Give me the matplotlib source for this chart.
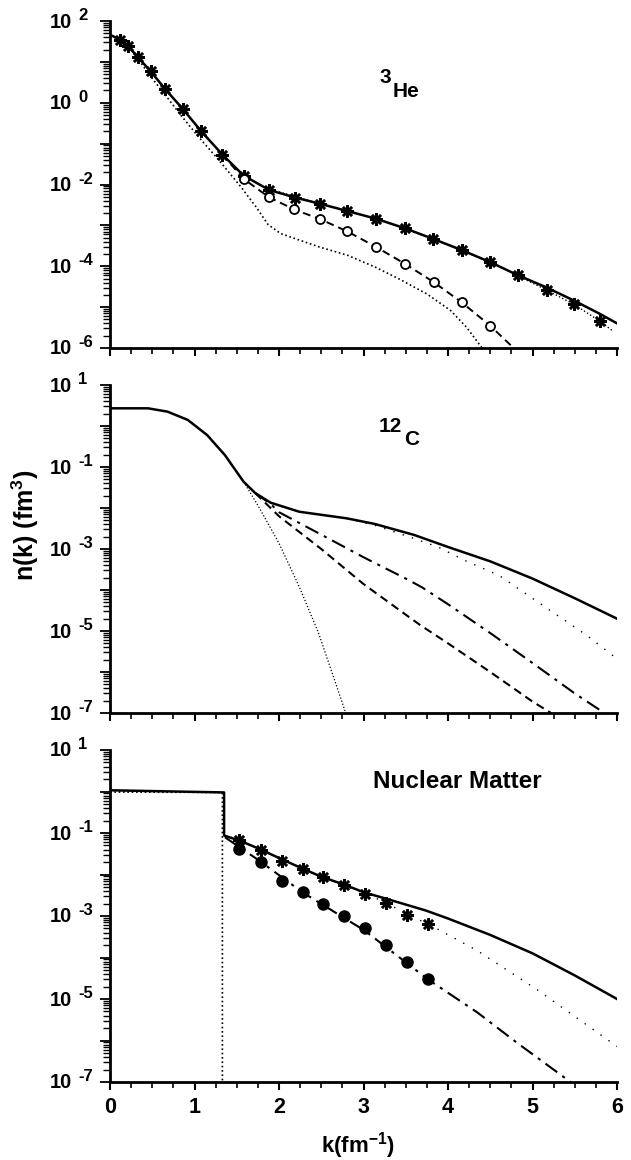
import numpy as np
import matplotlib
matplotlib.use('Agg')
import matplotlib.pyplot as plt
from matplotlib.ticker import LogLocator, MultipleLocator, NullFormatter

# ---------------- data ----------------
# 3He panel
he3_full_k = [0.0, 0.12, 0.21, 0.33, 0.48, 0.65, 0.86, 1.08, 1.33, 1.58, 1.88, 2.19, 2.48,
              2.81, 3.15, 3.49, 3.82, 4.16, 4.50, 4.83, 5.17, 5.49, 5.80, 6.0]
he3_full_n = [4.6e1, 3.5e1, 2.5e1, 1.3e1, 5.9e0, 2.2e0, 7.1e-1, 2.0e-1, 5.4e-2, 1.66e-2,
              7.4e-3, 4.8e-3, 3.4e-3, 2.24e-3, 1.45e-3, 8.5e-4, 4.7e-4, 2.5e-4, 1.26e-4,
              6.0e-5, 3.0e-5, 1.45e-5, 6.8e-6, 4.0e-6]
he3_star_k = [0.12, 0.21, 0.33, 0.48, 0.65, 0.86, 1.08, 1.33, 1.58, 1.88, 2.19, 2.48, 2.81,
              3.15, 3.49, 3.82, 4.16, 4.50, 4.83, 5.17, 5.49, 5.80]
he3_star_n = [3.5e1, 2.5e1, 1.3e1, 5.9e0, 2.2e0, 7.1e-1, 2.0e-1, 5.4e-2, 1.66e-2, 7.4e-3,
              4.8e-3, 3.4e-3, 2.24e-3, 1.45e-3, 8.5e-4, 4.7e-4, 2.5e-4, 1.26e-4, 6.0e-5,
              2.6e-5, 1.17e-5, 4.5e-6]
he3_dot2_k = [2.0, 2.48, 3.15, 3.82, 4.50, 4.83, 5.17, 5.49, 5.80, 5.95]
he3_dot2_n = [6.6e-3, 3.4e-3, 1.45e-3, 4.7e-4, 1.26e-4, 5.8e-5, 2.6e-5, 1.17e-5, 4.5e-6, 2.6e-6]
he3_circ_k = [1.58, 1.88, 2.18, 2.49, 2.81, 3.15, 3.49, 3.83, 4.16, 4.50]
he3_circ_n = [1.38e-2, 4.9e-3, 2.45e-3, 1.41e-3, 7.1e-4, 2.95e-4, 1.15e-4, 4.1e-5, 1.32e-5, 3.5e-6]
he3_dash_k = [1.33, 1.58, 1.88, 2.18, 2.49, 2.81, 3.15, 3.49, 3.83, 4.16, 4.50, 4.80]
he3_dash_n = [5.4e-2, 1.38e-2, 4.9e-3, 2.45e-3, 1.41e-3, 7.1e-4, 2.95e-4, 1.15e-4, 4.1e-5,
              1.32e-5, 3.5e-6, 9.0e-7]
he3_dot_k = [0.0, 0.21, 0.33, 0.47, 0.66, 0.84, 1.05, 1.29, 1.55, 1.73, 1.87, 2.02, 2.25,
             2.48, 2.81, 3.14, 3.42, 3.75, 4.03, 4.22, 4.42]
he3_dot_n = [4.6e1, 2.5e1, 1.2e1, 4.7e0, 1.5e0, 4.9e-1, 1.45e-1, 3.9e-2, 8.7e-3, 2.8e-3,
             1.05e-3, 6.3e-4, 4.3e-4, 2.95e-4, 1.86e-4, 9.5e-5, 4.9e-5, 2.1e-5, 8.3e-6,
             3.2e-6, 9.0e-7]

# 12C panel
c12_full_k = [0.0, 0.45, 0.68, 0.92, 1.15, 1.36, 1.58, 1.72, 1.90, 2.24, 2.80, 3.13, 3.60,
              4.0, 4.5, 5.0, 5.5, 6.0]
c12_full_n = [2.7e0, 2.7e0, 2.24e0, 1.41e0, 6.0e-1, 1.95e-1, 4.4e-2, 2.3e-2, 1.35e-2,
              8.1e-3, 5.6e-3, 4.1e-3, 2.2e-3, 1.12e-3, 5.0e-4, 1.9e-4, 6.3e-5, 2.0e-5]
c12_dot_k = [2.80, 3.13, 3.60, 3.88, 4.24, 4.60, 5.17, 5.64, 6.0]
c12_dot_n = [5.6e-3, 3.8e-3, 1.8e-3, 1.12e-3, 4.8e-4, 2.3e-4, 3.6e-5, 7.9e-6, 2.1e-6]
c12_dd_k = [1.72, 1.90, 2.0, 2.5, 3.0, 3.5, 3.69, 4.0, 4.5, 5.0, 5.5, 5.85]
c12_dd_n = [2.3e-2, 1.26e-2, 7.9e-3, 2.24e-3, 6.3e-4, 1.9e-4, 1.17e-4, 4.5e-5, 8.9e-6,
            1.66e-6, 3.0e-7, 1.0e-7]
c12_dash_k = [1.72, 1.90, 2.0, 2.5, 3.0, 3.5, 3.67, 4.0, 4.5, 5.0, 5.22]
c12_dash_n = [2.3e-2, 1.0e-2, 6.3e-3, 1.0e-3, 1.4e-4, 2.5e-5, 1.4e-5, 5.0e-6, 1.0e-6,
              1.9e-7, 1.0e-7]
c12_mf_k = [1.36, 1.58, 1.76, 2.0, 2.24, 2.47, 2.79]
c12_mf_n = [1.95e-1, 4.4e-2, 1.07e-2, 1.38e-3, 1.2e-4, 8.7e-6, 1.0e-7]

# Nuclear matter panel
nm_full_k = [0.0, 1.35, 1.35, 1.53, 1.76, 2.0, 2.28, 2.51, 2.75, 3.01, 3.27, 3.74, 4.0,
             4.5, 5.0, 5.5, 6.0]
nm_full_n = [1.07e0, 9.5e-1, 8.7e-2, 6.6e-2, 4.2e-2, 2.5e-2, 1.38e-2, 8.7e-3, 5.9e-3,
             3.7e-3, 2.6e-3, 1.35e-3, 8.7e-4, 3.5e-4, 1.26e-4, 3.7e-5, 1.0e-5]
nm_free_k = [0.0, 1.33, 1.33]
nm_free_n = [9.7e-1, 9.5e-1, 1.0e-7]
nm_dot_k = [1.35, 1.53, 2.0, 2.51, 3.01, 3.27, 3.50, 3.76, 4.35, 5.05, 6.0]
nm_dot_n = [8.7e-2, 6.6e-2, 2.5e-2, 8.7e-3, 3.5e-3, 2.1e-3, 1.12e-3, 6.5e-4, 1.45e-4,
            1.7e-5, 7.2e-7]
nm_mark_k = [1.53, 1.79, 2.03, 2.28, 2.52, 2.77, 3.02, 3.27, 3.51, 3.76]
nm_star_n = [6.9e-2, 4.0e-2, 2.1e-2, 1.38e-2, 8.7e-3, 5.6e-3, 3.4e-3, 2.1e-3, 1.07e-3, 6.5e-4]
nm_circ_n = [4.2e-2, 2.0e-2, 7.1e-3, 3.7e-3, 1.95e-3, 1.02e-3, 5.1e-4, 2.0e-4, 7.6e-5, 3.0e-5]
nm_dd_k = [1.36, 1.76, 2.28, 3.01, 3.76, 4.35, 4.82, 5.45]
nm_dd_n = [7.9e-2, 2.2e-2, 3.7e-3, 4.5e-4, 3.0e-5, 4.7e-6, 8.7e-7, 1.0e-7]

x_ticks = [0, 1, 2, 3, 4, 5, 6]
top_exponents = [2, 0, -2, -4, -6]
low_exponents = [1, -1, -3, -5, -7]
panel_titles = ["3He", "12C", "Nuclear Matter"]

# ---------------- style ----------------
plt.rcParams['font.family'] = ['Liberation Sans', 'DejaVu Sans']
plt.rcParams['font.weight'] = 'bold'
plt.rcParams['mathtext.fontset'] = 'custom'
plt.rcParams['mathtext.rm'] = 'Liberation Sans:bold'
plt.rcParams['mathtext.bf'] = 'Liberation Sans:bold'
plt.rcParams['mathtext.it'] = 'Liberation Sans:bold'
plt.rcParams['mathtext.default'] = 'rm'

W, H = 631, 1160
PX = 0.72  # points per pixel at dpi 100
fig = plt.figure(figsize=(W / 100, H / 100), dpi=100)


def add_ax(top, bottom):
    return fig.add_axes([110 / W, 1 - bottom / H, 507 / W, (bottom - top) / H])


ax1 = add_ax(21, 348)
ax2 = add_ax(385, 713)
ax3 = add_ax(750, 1082)

DOT_DENSE = (0, (1.0, 1.6))
DOT_SPARSE = (0, (1.0, 6.0))
DASH = (0, (4.0, 2.5))
DASHDOT = (0, (7.0, 3.0, 1.5, 3.0))
STAR = (8, 2, 0)


def style(ax, ymin, ymax, exps, show_x):
    ax.set_xlim(0, 6)
    ax.set_yscale('log')
    ax.set_ylim(ymin, ymax)
    for s in ['top', 'right']:
        ax.spines[s].set_visible(False)
    for s in ['left', 'bottom']:
        ax.spines[s].set_linewidth(2.0)
    ax.xaxis.set_major_locator(MultipleLocator(1))
    ax.xaxis.set_minor_locator(MultipleLocator(0.25))
    ax.yaxis.set_major_locator(LogLocator(base=10, numticks=30))
    ax.yaxis.set_minor_locator(LogLocator(base=10, subs=np.arange(2, 10), numticks=30))
    ax.yaxis.set_minor_formatter(NullFormatter())
    ax.yaxis.set_major_formatter(NullFormatter())
    ax.tick_params(axis='y', which='major', direction='out', length=7, width=1.3)
    ax.tick_params(axis='y', which='minor', direction='out', length=5, width=1.0)
    ax.tick_params(axis='x', which='major', direction='out', length=6, width=1.5,
                   labelsize=15.5, pad=5)
    ax.tick_params(axis='x', which='minor', direction='out', length=4, width=1.2)
    ax.set_xticks(x_ticks)
    if not show_x:
        ax.tick_params(axis='x', labelbottom=False)
    tr = ax.get_yaxis_transform()
    for e in exps:
        ax.annotate('10', xy=(0, 10.0 ** e), xycoords=tr, xytext=(-38 * PX, -6.5 * PX),
                    textcoords='offset points', ha='right', va='baseline',
                    fontsize=14.5, fontweight='bold', annotation_clip=False)
        ax.annotate(str(e), xy=(0, 10.0 ** e), xycoords=tr, xytext=(-32 * PX, 1.0 * PX),
                    textcoords='offset points', ha='left', va='baseline',
                    fontsize=12, fontweight='bold', annotation_clip=False)


style(ax1, 1e-6, 1e2, top_exponents, False)
style(ax2, 1e-7, 1e1, low_exponents, False)
style(ax3, 1e-7, 1e1, low_exponents, True)

# ---- 3He ----
ax1.plot(he3_dot_k, he3_dot_n, color='black', lw=1.2, ls=DOT_DENSE)
ax1.plot(he3_dot2_k, he3_dot2_n, color='black', lw=1.0, ls=DOT_DENSE)
ax1.plot(he3_dash_k, he3_dash_n, color='black', lw=1.4, ls=DASH)
ax1.plot(he3_full_k, he3_full_n, color='black', lw=1.8)
ax1.plot(he3_star_k, he3_star_n, ls='none', marker=STAR, ms=9, mew=1.8, color='black')
ax1.plot(he3_circ_k, he3_circ_n, ls='none', marker='o', ms=6.5, mew=1.3,
         mfc='white', mec='black')

# ---- 12C ----
ax2.plot(c12_mf_k, c12_mf_n, color='black', lw=0.9, ls=DOT_DENSE)
ax2.plot(c12_dot_k, c12_dot_n, color='black', lw=1.0, ls=DOT_SPARSE)
ax2.plot(c12_dash_k, c12_dash_n, color='black', lw=1.5, ls=DASH)
ax2.plot(c12_dd_k, c12_dd_n, color='black', lw=1.5, ls=DASHDOT)
ax2.plot(c12_full_k, c12_full_n, color='black', lw=1.8)

# ---- Nuclear matter ----
ax3.plot(nm_free_k, nm_free_n, color='black', lw=1.2, ls=DOT_DENSE)
ax3.plot(nm_dot_k, nm_dot_n, color='black', lw=1.0, ls=DOT_SPARSE)
ax3.plot(nm_dd_k, nm_dd_n, color='black', lw=1.5, ls=DASHDOT)
ax3.plot(nm_full_k, nm_full_n, color='black', lw=1.8)
ax3.plot(nm_mark_k, nm_star_n, ls='none', marker=STAR, ms=9, mew=1.8, color='black')
ax3.plot(nm_mark_k, nm_circ_n, ls='none', marker='o', ms=8, color='black')


def ftext(x, y, s, **kw):
    fig.text(x / W, 1 - y / H, s, **kw)


# panel titles
ftext(379, 68, panel_titles[0][0], fontsize=15, fontweight='bold', va='top', ha='left')
ftext(393, 82, panel_titles[0][1:], fontsize=15, fontweight='bold', va='top', ha='left')
ftext(379, 417, panel_titles[1][:2], fontsize=15, fontweight='bold', va='top', ha='left')
ftext(404, 430, panel_titles[1][2:], fontsize=15, fontweight='bold', va='top', ha='left')
ftext(457, 781, panel_titles[2], fontsize=17.5, fontweight='bold', va='center', ha='center')

# axis labels
ftext(25, 525, r'n(k) (fm$^{3}$)', fontsize=18, fontweight='bold', rotation=90,
      va='center', ha='center')
ftext(358, 1146, r'k(fm$^{-1}$)', fontsize=16, fontweight='bold', va='center', ha='center')

fig.savefig('out.png', dpi=100)
